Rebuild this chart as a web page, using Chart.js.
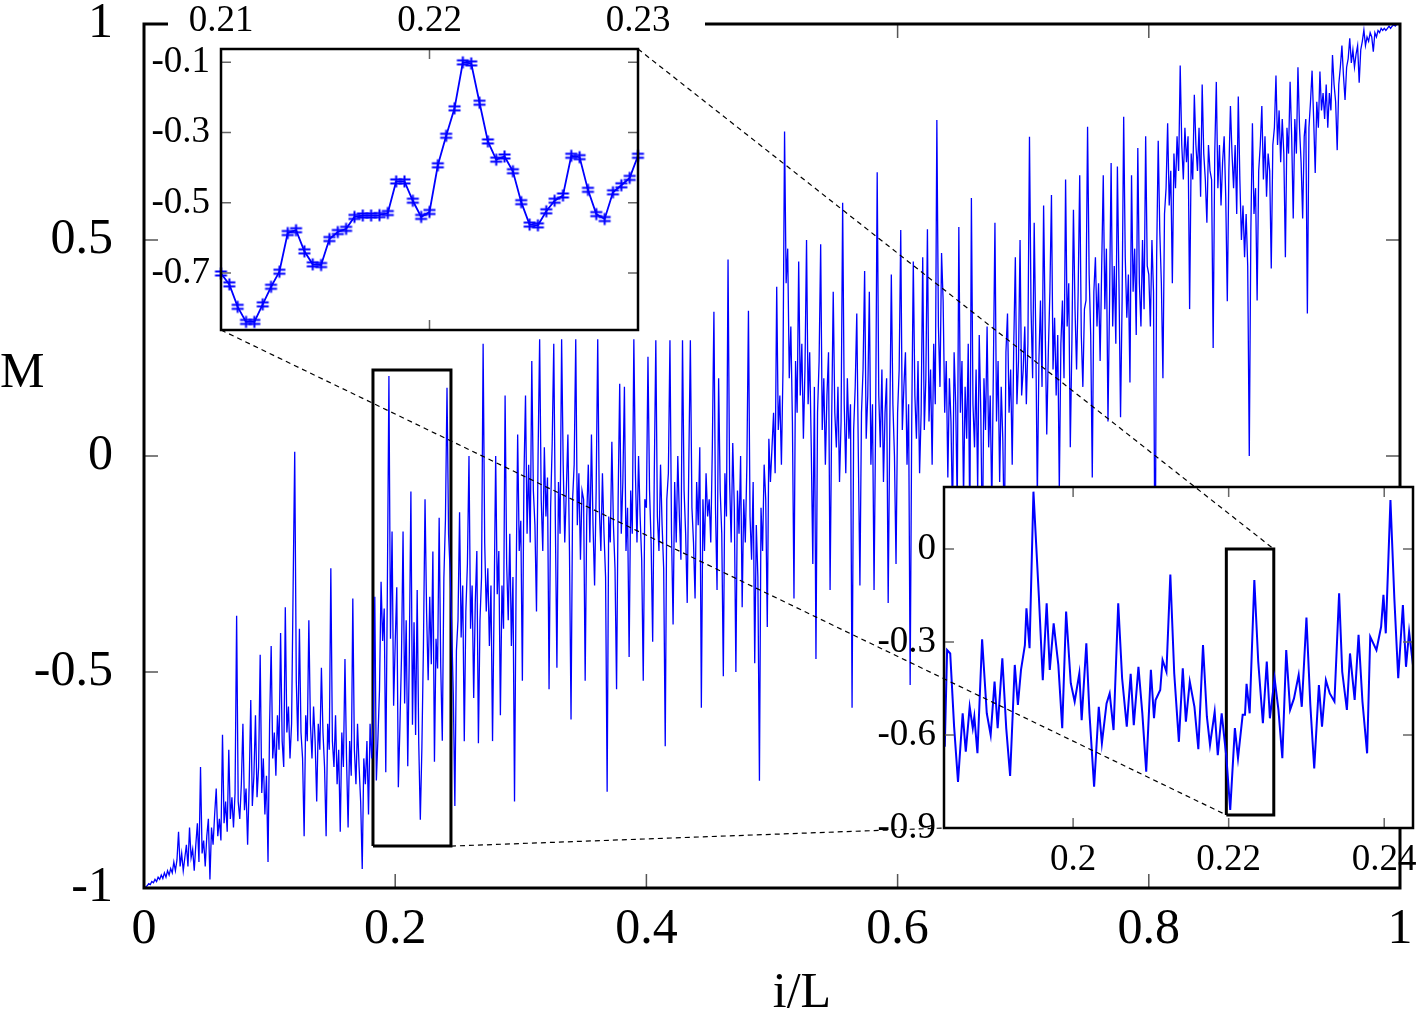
<!DOCTYPE html>
<html>
<head>
<meta charset="utf-8">
<script src="https://cdn.jsdelivr.net/npm/chart.js@4.4.1/dist/chart.umd.min.js"></script>
<style>
  html, body { margin: 0; padding: 0; background: #fff; }
  #wrap { position: relative; width: 1416px; height: 1019px; overflow: hidden; }
  #wrap canvas { position: absolute; }
</style>
</head>
<body>
<div id="wrap">
  <canvas id="main" width="1416" height="1019" style="left:0;top:0"></canvas>
  <canvas id="fine" width="560" height="340" style="left:148px;top:0"></canvas>
  <canvas id="zoom" width="556" height="420" style="left:860px;top:470px"></canvas>
  <canvas id="links" width="1416" height="1019" style="left:0;top:0"></canvas>
</div>
<script>
const FONT = "'Liberation Serif', 'Times New Roman', serif";
const BLUE = "#0000ff";

// main curve: M every 1/800 of i/L (one row = 0.05)
const mainStep = 0.00125;
const mainM = [
  -1.00,-0.998,-0.995,-0.99,-0.992,-0.985,-0.988,-0.98,-0.985,-0.975,-0.98,-0.97,-0.978,-0.965,-0.975,-0.96,-0.97,-0.955,-0.965,-0.94,-0.96,-0.935,-0.87,-0.95,-0.92,-0.96,-0.93,-0.90,-0.95,-0.86,-0.93,-0.91,-0.96,-0.90,-0.85,-0.94,-0.72,-0.92,-0.89,-0.95,
  -0.88,-0.84,-0.98,-0.86,-0.90,-0.83,-0.77,-0.88,-0.84,-0.89,-0.645,-0.85,-0.80,-0.87,-0.68,-0.84,-0.79,-0.86,-0.78,-0.37,-0.80,-0.84,-0.76,-0.62,-0.82,-0.77,-0.90,-0.76,-0.565,-0.81,-0.74,-0.60,-0.79,-0.72,-0.46,-0.78,-0.70,-0.83,-0.74,-0.94,
  -0.62,-0.44,-0.70,-0.64,-0.74,-0.60,-0.68,-0.41,-0.66,-0.72,-0.35,-0.64,-0.58,-0.70,-0.62,-0.30,0.01,-0.52,-0.66,-0.40,-0.64,-0.70,-0.88,-0.60,-0.66,-0.38,-0.62,-0.70,-0.58,-0.66,-0.80,-0.62,-0.68,-0.49,-0.64,-0.72,-0.88,-0.62,-0.68,-0.26,
  -0.66,-0.72,-0.60,-0.76,-0.68,-0.87,-0.64,-0.72,-0.47,-0.70,-0.86,-0.66,-0.74,-0.33,-0.68,-0.76,-0.62,-0.72,-0.80,-0.956,-0.70,-0.76,-0.66,-0.83,-0.62,-0.70,-0.62,-0.326,-0.751,-0.654,-0.541,-0.291,-0.428,-0.353,-0.732,-0.310,0.185,-0.423,-0.175,-0.578,
  -0.433,-0.304,-0.767,-0.627,-0.466,-0.175,-0.573,-0.380,-0.718,-0.455,-0.082,-0.622,-0.385,-0.646,-0.310,-0.665,-0.842,-0.675,-0.435,-0.100,-0.363,-0.519,-0.326,-0.482,-0.221,-0.708,-0.423,-0.492,-0.143,-0.487,-0.659,-0.283,-0.148,0.158,-0.181,-0.267,-0.40,-0.55,-0.81,-0.45,
  -0.38,-0.13,-0.42,-0.30,-0.66,-0.36,-0.25,0.00,-0.40,-0.30,-0.56,-0.34,-0.22,-0.665,-0.38,-0.28,0.26,-0.20,-0.36,-0.26,-0.44,-0.30,-0.66,-0.34,0.00,-0.32,-0.22,-0.60,-0.30,-0.40,0.14,-0.25,-0.38,-0.18,-0.44,-0.28,-0.80,-0.30,0.05,-0.22,
  -0.15,-0.52,-0.05,0.14,-0.18,-0.02,-0.20,0.22,-0.08,-0.16,-0.36,0.00,0.27,-0.10,-0.22,0.02,-0.14,-0.05,-0.54,-0.12,0.03,0.26,-0.15,-0.49,-0.06,-0.18,0.27,-0.02,-0.20,-0.08,0.05,-0.22,-0.61,-0.10,-0.02,0.27,-0.16,-0.04,-0.24,-0.08,
  -0.10,-0.52,-0.14,-0.02,-0.20,0.05,-0.16,-0.30,-0.08,0.27,-0.12,-0.22,-0.04,-0.18,-0.28,-0.777,-0.14,-0.20,0.033,-0.16,-0.26,-0.54,-0.10,0.167,-0.18,-0.06,0.16,-0.22,-0.12,-0.465,-0.08,-0.18,0.27,-0.04,-0.20,0.00,-0.14,-0.24,-0.52,-0.10,
  -0.12,0.23,-0.08,-0.20,-0.43,-0.05,0.268,-0.14,-0.22,-0.02,-0.16,-0.26,-0.672,-0.10,-0.04,0.268,-0.18,-0.39,-0.06,-0.20,0.00,-0.14,-0.24,0.268,-0.08,-0.18,-0.34,-0.02,0.268,-0.12,-0.20,-0.33,-0.06,-0.16,0.02,-0.583,-0.10,-0.22,-0.04,-0.14,
  -0.10,-0.20,0.02,0.334,-0.12,-0.31,0.18,-0.08,-0.18,-0.51,-0.04,-0.14,0.455,-0.06,-0.20,0.03,-0.12,-0.50,-0.08,-0.18,0.00,-0.35,-0.10,-0.20,-0.02,0.336,-0.14,-0.24,-0.06,-0.48,-0.16,-0.28,-0.752,-0.12,-0.22,-0.02,-0.10,-0.396,0.04,-0.06,
  0.02,0.10,-0.04,0.392,0.06,0.14,-0.02,0.20,0.751,0.40,0.48,0.18,0.30,0.08,-0.33,0.22,0.10,0.45,0.14,0.26,0.04,0.20,0.50,0.12,0.24,0.02,-0.25,0.16,-0.47,0.10,0.22,0.49,0.06,0.18,-0.02,0.14,0.24,-0.31,0.08,0.38,
  0.10,0.02,0.16,-0.06,0.08,0.586,0.12,-0.04,0.18,0.04,0.12,-0.583,0.06,0.16,0.33,0.00,-0.30,0.10,0.20,0.428,0.04,0.14,0.38,-0.02,0.12,-0.31,0.08,0.657,0.14,0.02,0.20,-0.06,0.10,0.18,-0.34,0.06,0.42,0.12,0.00,-0.25,
  0.10,0.20,0.523,0.06,0.16,0.24,-0.02,0.12,-0.53,0.08,0.45,0.14,0.04,0.22,-0.04,0.10,0.46,0.06,0.18,0.525,0.08,0.20,-0.02,0.26,0.12,0.778,0.30,0.16,0.47,0.36,0.10,0.22,-0.05,0.18,0.08,-0.15,0.24,0.12,-0.12,0.53,
  0.10,0.22,-0.10,0.16,0.04,0.26,-0.18,0.597,0.12,0.02,0.20,-0.08,0.28,0.10,-0.22,0.18,0.06,0.30,0.02,0.14,-0.12,0.20,0.54,0.08,0.22,-0.06,0.16,0.04,-0.20,0.24,0.33,0.10,0.20,-0.02,0.26,0.46,0.12,0.22,0.50,0.14,
  0.20,0.30,0.12,0.26,0.739,0.34,0.18,0.54,0.28,-0.10,0.22,0.36,0.16,0.58,0.30,0.05,0.24,0.38,0.604,0.20,0.32,0.14,0.28,-0.08,0.26,0.36,0.18,0.64,0.30,0.40,0.02,0.26,0.57,0.34,0.20,0.38,0.65,0.28,0.16,0.34,
  0.36,0.762,0.42,0.28,-0.05,0.38,0.46,0.30,0.40,0.22,0.44,0.65,0.34,0.48,0.08,0.36,0.678,0.30,0.44,0.26,0.67,0.40,0.09,0.36,0.785,0.46,0.32,0.42,0.17,0.65,0.38,0.48,0.28,0.713,0.40,0.30,0.50,0.34,0.74,0.44,
  0.42,0.30,0.50,0.38,-0.35,0.46,0.73,0.52,0.40,0.18,0.56,0.62,0.77,0.58,0.66,0.40,0.70,0.62,0.74,0.66,0.904,0.72,0.64,0.76,0.68,0.74,0.34,0.70,0.64,0.836,0.72,0.66,0.76,0.60,0.86,0.70,0.64,0.54,0.72,0.66,
  0.64,0.25,0.70,0.866,0.62,0.72,0.58,0.68,0.74,0.60,0.358,0.66,0.81,0.70,0.62,0.72,0.56,0.832,0.64,0.50,0.58,0.46,0.56,0.44,0.00,0.52,0.77,0.56,0.62,0.36,0.66,0.72,0.81,0.64,0.74,0.60,0.70,0.66,0.434,0.72,
  0.76,0.881,0.72,0.80,0.68,0.78,0.70,0.46,0.76,0.70,0.866,0.74,0.55,0.78,0.70,0.90,0.76,0.68,0.55,0.74,0.78,0.33,0.76,0.82,0.892,0.78,0.655,0.82,0.76,0.89,0.80,0.84,0.78,0.86,0.76,0.84,0.80,0.928,0.86,0.82,
  0.708,0.86,0.90,0.95,0.88,0.824,0.90,0.92,0.967,0.91,0.94,0.90,0.93,0.95,0.864,0.94,0.96,0.986,0.95,0.97,0.96,0.98,0.97,0.936,0.98,0.97,0.985,0.98,0.99,0.985,0.99,0.985,0.99,0.995,0.99,0.995,0.998,0.995,1.00,1.00,
  1.00
];
const mainXTicks = [0, 0.2, 0.4, 0.6, 0.8, 1];
const mainYTicks = [-1, -0.5, 0, 0.5, 1];

// box drawn in the main plot around the zoomed window
const boxX = [0.1823, 0.2444];
const boxM = [-0.903, 0.199];

// lower-right inset
const zoomRangeX = [0.1834, 0.2437];
const zoomRangeM = [-0.9, 0.2];
const zoomX = [
  0.1835,0.1838,0.1842,0.1847,0.1852,0.1858,0.1862,0.1867,0.1871,0.1873,0.1877,0.1883,0.1889,0.1894,0.1899,0.1903,0.1909,0.1914,
  0.1919,0.1925,0.1929,0.1933,0.1938,0.1940,0.1944,0.1949,0.1956,0.1961,0.1966,0.1970,0.1975,0.1981,0.1986,0.1991,0.1997,0.2002,
  0.2008,0.2011,0.2017,0.2021,0.2027,0.2033,0.2037,0.2043,0.2047,0.2052,0.2058,0.2063,0.2069,0.2074,0.2078,0.2084,0.2089,0.2094,
  0.2100,0.2104,0.2106,0.2112,0.2115,0.2120,0.2125,0.2130,0.2136,0.2141,0.2145,0.2150,0.2156,0.2161,0.2167,0.2172,0.2176,0.2182,
  0.2186,0.2191,0.2197,0.2202,0.2208,0.2212,0.2218,0.2221,0.2223,0.2227,0.2233,0.2238,0.2244,0.2249,0.2253,0.2259,0.2264,0.2269,
  0.2274,0.2279,0.2284,0.2290,0.2294,0.2300,0.2305,0.2310,0.2316,0.2320,0.2325,0.2330,0.2336,0.2342,0.2346,0.2352,0.2356,0.2362,
  0.2367,0.2372,0.2378,0.2382,0.2390,0.2396,0.2399,0.2402,0.2408,0.2413,0.2418,0.2424,0.2428,0.2432,0.2438
];
const zoomM = [
  -0.638,-0.326,-0.337,-0.573,-0.751,-0.530,-0.654,-0.509,-0.578,-0.541,-0.659,-0.291,-0.530,-0.600,-0.428,-0.578,-0.353,-0.578,
  -0.732,-0.374,-0.503,-0.390,-0.310,-0.191,-0.320,0.185,-0.154,-0.423,-0.175,-0.390,-0.240,-0.374,-0.578,-0.202,-0.433,-0.492,
  -0.401,-0.552,-0.304,-0.530,-0.767,-0.509,-0.627,-0.498,-0.466,-0.584,-0.175,-0.417,-0.573,-0.403,-0.568,-0.380,-0.530,-0.718,
  -0.390,-0.546,-0.487,-0.455,-0.358,-0.396,-0.082,-0.401,-0.622,-0.385,-0.557,-0.428,-0.509,-0.646,-0.310,-0.541,-0.632,-0.525,
  -0.665,-0.530,-0.670,-0.842,-0.578,-0.675,-0.535,-0.535,-0.435,-0.530,-0.100,-0.363,-0.562,-0.363,-0.546,-0.417,-0.519,-0.675,
  -0.326,-0.519,-0.482,-0.406,-0.509,-0.221,-0.503,-0.708,-0.439,-0.573,-0.423,-0.466,-0.492,-0.143,-0.396,-0.519,-0.337,-0.487,
  -0.277,-0.492,-0.659,-0.283,-0.326,-0.251,-0.148,-0.272,0.158,-0.159,-0.417,-0.181,-0.380,-0.267,-0.396
];
const zoomXTicks = [0.2, 0.22, 0.24];
const zoomYTicks = [0, -0.3, -0.6, -0.9];
const zoomBoxX = [0.2197, 0.2258];
const zoomBoxM = [-0.858, 0];

// upper-left inset, points with error bars
const fineRangeX = [0.21, 0.23];
const fineRangeM = [-0.862, -0.062];
const fineX = [
  0.2100,0.2104,0.2108,0.2112,0.2116,0.2120,0.2124,0.2128,0.2132,0.2136,
  0.2140,0.2144,0.2148,0.2152,0.2156,0.2160,0.2164,0.2168,0.2172,0.2176,
  0.2180,0.2184,0.2188,0.2192,0.2196,0.2200,0.2204,0.2208,0.2212,0.2216,
  0.2220,0.2224,0.2228,0.2232,0.2236,0.2240,0.2244,0.2248,0.2252,0.2256,
  0.2260,0.2264,0.2268,0.2272,0.2276,0.2280,0.2284,0.2288,0.2292,0.2296,0.2300
];
const fineM = [
  -0.701,-0.732,-0.796,-0.839,-0.839,-0.789,-0.739,-0.696,-0.586,-0.578,
  -0.638,-0.675,-0.677,-0.603,-0.583,-0.574,-0.540,-0.536,-0.536,-0.535,
  -0.529,-0.439,-0.439,-0.494,-0.540,-0.526,-0.393,-0.309,-0.231,-0.100,
  -0.103,-0.215,-0.325,-0.377,-0.368,-0.410,-0.498,-0.562,-0.564,-0.524,
  -0.494,-0.479,-0.366,-0.370,-0.463,-0.532,-0.546,-0.470,-0.450,-0.429,-0.366
];
const fineXTicks = [0.21, 0.22, 0.23];
const fineYTicks = [-0.1, -0.3, -0.5, -0.7];

function boxPoints(xs, ms) {
  return [
    { x: xs[0], y: ms[0] }, { x: xs[1], y: ms[0] },
    { x: xs[1], y: ms[1] }, { x: xs[0], y: ms[1] }, { x: xs[0], y: ms[0] }
  ];
}

// frame with inward ticks on all four sides, like the gnuplot original
const frameTicks = {
  id: 'frameTicks',
  beforeDraw(chart, args, opts) {
    const a = chart.chartArea, ctx = chart.ctx;
    ctx.save();
    ctx.fillStyle = '#fff';
    if (opts.fillArea) ctx.fillRect(a.left, a.top, a.right - a.left, a.bottom - a.top);
    if (opts.strip) ctx.fillRect(opts.strip[0], opts.strip[1], opts.strip[2], opts.strip[3]);
    ctx.restore();
  },
  afterDatasetsDraw(chart, args, opts) {
    const a = chart.chartArea, ctx = chart.ctx;
    const xs = chart.scales.x, ys = chart.scales.y;
    ctx.save();
    ctx.strokeStyle = opts.tickColor;
    ctx.lineWidth = opts.tickWidth;
    ctx.beginPath();
    xs.ticks.forEach(t => {
      const p = xs.getPixelForValue(t.value);
      ctx.moveTo(p, a.bottom); ctx.lineTo(p, a.bottom - opts.len);
      ctx.moveTo(p, a.top); ctx.lineTo(p, a.top + opts.len);
    });
    ys.ticks.forEach(t => {
      const p = ys.getPixelForValue(t.value);
      ctx.moveTo(a.left, p); ctx.lineTo(a.left + opts.len, p);
      ctx.moveTo(a.right, p); ctx.lineTo(a.right - opts.len, p);
    });
    ctx.stroke();
    ctx.strokeStyle = '#000';
    ctx.lineWidth = opts.frameWidth;
    ctx.strokeRect(a.left, a.top, a.right - a.left, a.bottom - a.top);
    ctx.restore();
  }
};

function axis(range, ticks, o) {
  return {
    type: 'linear',
    position: o.position,
    min: range[0],
    max: range[1],
    grid: { display: false, drawTicks: false },
    border: { display: false },
    afterBuildTicks: s => { s.ticks = ticks.map(v => ({ value: v })); },
    afterFit: s => {
      if (o.width) s.width = o.width;
      if (o.height) s.height = o.height;
      s.paddingLeft = s.paddingRight = s.paddingTop = s.paddingBottom = 0;
    },
    ticks: {
      color: '#000',
      font: { family: FONT, size: o.size },
      padding: o.pad,
      autoSkip: false,
      maxRotation: 0,
      callback: v => String(v)
    }
  };
}

function baseOptions(padding, scales, frame) {
  return {
    responsive: false,
    animation: false,
    devicePixelRatio: 1,
    events: [],
    layout: { padding },
    plugins: { legend: { display: false }, tooltip: { enabled: false }, frameTicks: frame },
    scales
  };
}

const axisTitles = {
  id: 'axisTitles',
  afterDraw(chart) {
    const ctx = chart.ctx;
    ctx.save();
    ctx.fillStyle = '#000';
    ctx.font = '50px ' + FONT;
    ctx.textBaseline = 'alphabetic';
    ctx.textAlign = 'left';
    ctx.fillText('M', 0, 387);
    ctx.textAlign = 'center';
    ctx.fillText('i/L', 802, 1007);
    ctx.restore();
  }
};

const mainChart = new Chart(document.getElementById('main'), {
  type: 'line',
  data: {
    datasets: [
      {
        data: mainM.map((m, i) => ({ x: i * mainStep, y: m })),
        borderColor: BLUE, borderWidth: 1.3, pointRadius: 0, tension: 0
      },
      {
        data: boxPoints(boxX, boxM),
        borderColor: '#000', borderWidth: 3, pointRadius: 0, tension: 0
      }
    ]
  },
  options: baseOptions(
    { top: 24, right: 16, left: 0, bottom: 0 },
    {
      x: axis([0, 1], mainXTicks, { position: 'bottom', height: 131, size: 50, pad: 12 }),
      y: axis([-1, 1], mainYTicks, { position: 'left', width: 144, size: 50, pad: 31 })
    },
    { len: 14, tickColor: '#555', tickWidth: 1.5, frameWidth: 3 }
  ),
  plugins: [frameTicks, axisTitles]
});

// error-bar marker: vertical bar with two close caps
function errMark() {
  const c = document.createElement('canvas');
  c.width = 15; c.height = 15;
  const g = c.getContext('2d');
  g.strokeStyle = BLUE;
  g.lineWidth = 2;
  g.beginPath();
  g.moveTo(7.5, 1.5); g.lineTo(7.5, 13.5);
  g.moveTo(1.5, 5.5); g.lineTo(13.5, 5.5);
  g.moveTo(1.5, 9.5); g.lineTo(13.5, 9.5);
  g.stroke();
  return c;
}

const fineChart = new Chart(document.getElementById('fine'), {
  type: 'line',
  data: {
    datasets: [{
      data: fineX.map((x, i) => ({ x, y: fineM[i] })),
      borderColor: BLUE, borderWidth: 1.8, tension: 0,
      pointStyle: errMark(), pointRadius: 7, clip: false
    }]
  },
  options: baseOptions(
    { top: 0, right: 70, left: 0, bottom: 10 },
    {
      x: axis(fineRangeX, fineXTicks, { position: 'top', height: 49, size: 37, pad: 6 }),
      y: axis(fineRangeM, fineYTicks, { position: 'left', width: 73, size: 37, pad: 11 })
    },
    { len: 10, tickColor: '#666', tickWidth: 1.5, frameWidth: 2.5, fillArea: true, strip: [20, 0, 537, 49] }
  ),
  plugins: [frameTicks]
});

const zoomChart = new Chart(document.getElementById('zoom'), {
  type: 'line',
  data: {
    datasets: [
      {
        data: zoomX.map((x, i) => ({ x, y: zoomM[i] })),
        borderColor: BLUE, borderWidth: 2, pointRadius: 0, tension: 0
      },
      {
        data: boxPoints(zoomBoxX, zoomBoxM),
        borderColor: '#000', borderWidth: 3, pointRadius: 0, tension: 0
      }
    ]
  },
  options: baseOptions(
    { top: 17, right: 3, left: 0, bottom: 0 },
    {
      x: axis(zoomRangeX, zoomXTicks, { position: 'bottom', height: 62, size: 37, pad: 10 }),
      y: axis(zoomRangeM, zoomYTicks, { position: 'left', width: 84, size: 37, pad: 8 })
    },
    { len: 10, tickColor: '#666', tickWidth: 1.5, frameWidth: 2.5, fillArea: true }
  ),
  plugins: [frameTicks]
});

// dashed leader lines joining the boxes and the insets
(function drawLinks() {
  const cv = document.getElementById('links');
  const ctx = cv.getContext('2d');
  const off = c => [c.canvas.offsetLeft, c.canvas.offsetTop];
  const px = (c, x, y) => {
    const o = off(c);
    return [o[0] + c.scales.x.getPixelForValue(x), o[1] + c.scales.y.getPixelForValue(y)];
  };
  const corner = (c, sx, sy) => {
    const o = off(c), a = c.chartArea;
    return [o[0] + a[sx], o[1] + a[sy]];
  };
  const links = [
    [corner(fineChart, 'left', 'bottom'), px(zoomChart, zoomBoxX[0], zoomBoxM[0])],
    [corner(fineChart, 'right', 'top'), px(zoomChart, zoomBoxX[1], zoomBoxM[1])],
    [px(mainChart, boxX[1], boxM[0]), corner(zoomChart, 'left', 'bottom')]
  ];
  ctx.strokeStyle = '#000';
  ctx.lineWidth = 1.2;
  ctx.setLineDash([5, 4]);
  links.forEach(([p, q]) => {
    ctx.beginPath();
    ctx.moveTo(p[0], p[1]);
    ctx.lineTo(q[0], q[1]);
    ctx.stroke();
  });
})();
</script>
</body>
</html>
